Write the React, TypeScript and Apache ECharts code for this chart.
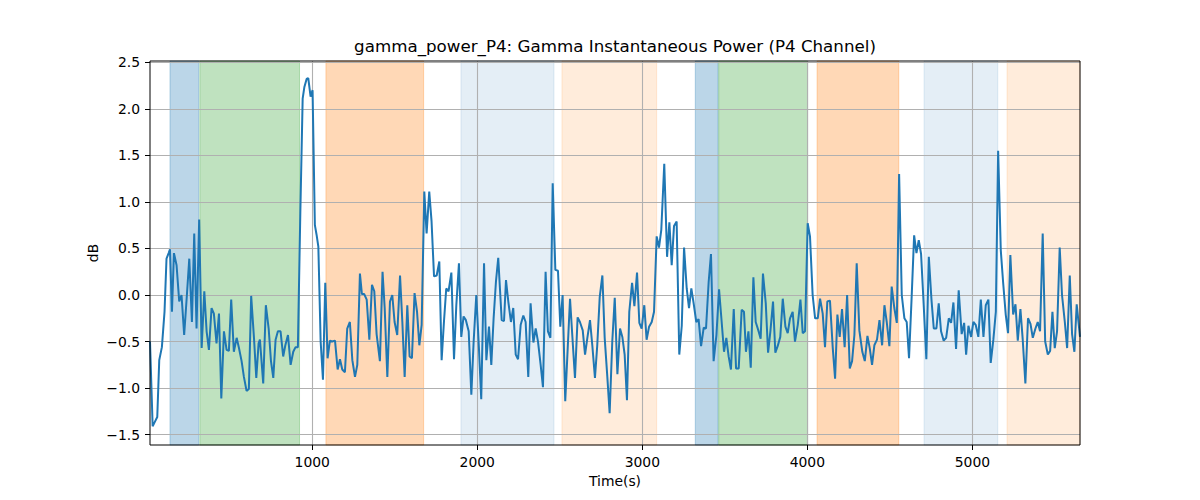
import React, { useEffect, useRef } from "react";
import * as echarts from "echarts";

const times = [
  17, 33, 47, 61, 73, 89, 105, 117, 130, 138, 150, 162, 178, 194, 208, 224, 239, 255, 271, 285,
  299, 315, 330, 346, 360, 374, 390, 404, 420, 435, 449, 465, 481, 495, 509, 525, 542, 556, 572, 586,
  602, 616, 630, 647, 661, 675,
  683, 703, 719, 736, 750, 764, 778, 792, 808, 824, 837, 853, 869, 885, 899, 913, 928, 942, 952, 966,
  976, 990, 1002, 1016, 1026, 1037, 1051, 1065, 1079, 1093, 1107, 1121, 1138, 1154, 1168, 1182, 1198, 1212, 1228, 1243,
  1259, 1273, 1289, 1301, 1315, 1330, 1346, 1362, 1376, 1390,
  1410, 1426, 1439, 1455, 1471, 1485, 1499, 1515, 1532, 1546, 1560, 1576, 1590, 1604, 1620, 1635, 1649, 1663, 1679, 1693,
  1709, 1723, 1738, 1754, 1770, 1784, 1798, 1812, 1826, 1843, 1859, 1873, 1889, 1903, 1917, 1931, 1948, 1964, 1978, 1994,
  2010, 2024, 2041, 2055, 2071, 2085, 2099, 2113, 2127,
  2148, 2162, 2174, 2188, 2204, 2218, 2233, 2247, 2263, 2279, 2293, 2309, 2323, 2340, 2354, 2368, 2384, 2398, 2414, 2428,
  2443, 2457, 2473, 2489, 2503, 2517, 2533, 2548, 2562, 2578, 2592, 2608, 2622, 2639, 2653, 2667, 2683, 2697, 2713, 2727,
  2742, 2758, 2772, 2788, 2802, 2818, 2833, 2849,
  2865, 2879, 2893, 2907, 2921, 2938, 2952, 2968, 2982, 2996, 3012, 3026, 3041, 3057, 3071, 3087, 3101, 3115, 3133, 3150,
  3164, 3178, 3192, 3208, 3224, 3239, 3253, 3269, 3283, 3297, 3311, 3327, 3341, 3356, 3372, 3386, 3402, 3416, 3432, 3449,
  3465, 3479, 3495, 3509, 3523, 3537, 3554, 3568, 3584,
  3602, 3616, 3628, 3643, 3657, 3673, 3687, 3703, 3717, 3731, 3748, 3762, 3776, 3792, 3806, 3820, 3836, 3851, 3867, 3881,
  3895, 3911, 3925, 3942, 3958, 3972, 3986, 4002, 4016, 4032, 4047, 4063, 4077, 4093, 4107, 4121, 4137, 4154, 4168, 4182,
  4196, 4210, 4226, 4241, 4257, 4271, 4285, 4299, 4315,
  4333, 4348, 4364, 4378, 4392, 4406, 4422, 4437, 4453, 4467, 4481, 4497, 4511, 4527, 4542, 4556, 4572, 4588, 4602, 4616,
  4632, 4647, 4661, 4675, 4689, 4705, 4721, 4736, 4752, 4766, 4782, 4796, 4810, 4826, 4841, 4857, 4871, 4885, 4901, 4917,
  4935, 4950, 4962, 4976, 4992, 5006, 5020, 5036, 5051, 5067, 5081, 5097, 5111, 5127, 5142, 5156, 5172, 5186, 5202, 5216,
  5230, 5247, 5261, 5275, 5291, 5305, 5321, 5337, 5352, 5366, 5382, 5396, 5410, 5426, 5441, 5457, 5471, 5485, 5499, 5513,
  5529, 5543, 5560, 5574, 5590, 5604, 5618, 5632, 5652,
];

const values = [
  -0.5, -1.41, -1.36, -1.31, -0.7, -0.56, -0.18, 0.39, 0.45, 0.49, -0.18, 0.45, 0.32, -0.07, 0.0, -0.43, -0.04, 0.39, -0.29, 0.66,
  -0.36, 0.81, -0.57, 0.04, -0.39, -0.59, -0.14, -0.2, -0.52, -0.2, -1.11, -0.39, -0.59, -0.6, -0.05, -0.61, -0.46, -0.57, -0.71, -0.88,
  -1.03, -1.01, -0.01, -0.46, -0.89, -0.52,
  -0.48, -0.95, -0.11, -0.36, -0.71, -0.89, -0.48, -0.39, -0.39, -0.66, -0.54, -0.43, -0.75, -0.61, -0.56, -0.56, 0.9, 2.11, 2.23, 2.32,
  2.33, 2.13, 2.2, 0.75, 0.65, 0.52, -0.5, -0.91, 0.13, -0.68, -0.49, -0.5, -0.49, -0.8, -0.69, -0.8, -0.83, -0.36, -0.29, -0.7,
  -0.88, -0.75, 0.23, 0.01, 0.01, -0.05, -0.48, 0.11, 0.04, -0.42,
  -0.71, 0.25, -0.14, -0.88, -0.07, 0.0, -0.29, -0.43, 0.21, -0.29, -0.88, -0.11, -0.66, -0.68, 0.02, -0.18, -0.54, -0.32, 1.11, 0.66,
  1.11, 0.79, 0.2, 0.21, 0.36, -0.7, -0.29, 0.07, 0.04, 0.24, -0.69, -0.11, 0.34, -0.45, -0.23, -0.27, -0.39, -1.07, -0.5, 0.0,
  -0.57, -1.12, 0.34, -0.7, -0.34, -0.75, -0.25, 0.14, 0.4,
  -0.27, -0.28, 0.16, -0.07, -0.29, -0.14, -0.64, -0.69, -0.32, -0.22, -0.29, -0.88, -0.09, -0.51, -0.36, -0.5, -0.75, -0.99, 0.25, -0.39,
  -0.46, 1.2, 0.27, 0.26, -0.34, 0.0, -1.14, -0.57, -0.04, -0.5, -0.89, -0.24, -0.29, -0.38, -0.64, -0.46, -0.27, -0.54, -0.89, -0.54,
  -0.02, 0.21, -0.46, -0.88, -1.27, -0.5, -0.03, -0.85,
  -0.36, -0.45, -0.64, -1.13, -0.18, 0.13, -0.12, 0.24, -0.3, -0.36, -0.11, -0.48, -0.34, -0.29, -0.18, 0.63, 0.51, 0.7, 1.41, 0.41,
  0.78, 0.32, 0.74, 0.79, -0.64, -0.33, 0.51, 0.07, -0.14, 0.07, -0.09, -0.29, -0.26, -0.55, -0.35, -0.36, 0.14, 0.44, -0.71, -0.43,
  0.06, -0.25, -0.61, -0.46, -0.66, -0.8, -0.15, -0.79, -0.79,
  -0.16, -0.18, -0.61, -0.39, -0.78, 0.19, -0.29, -0.38, -0.47, 0.23, -0.09, -0.62, -0.39, -0.07, -0.62, -0.55, -0.45, -0.04, -0.34, -0.41,
  -0.25, -0.18, -0.5, -0.32, -0.05, -0.41, -0.39, 0.77, 0.63, 0.0, -0.25, -0.25, -0.04, -0.2, -0.56, -0.07, -0.06, -0.57, -0.9, -0.21,
  -0.45, -0.15, -0.56, 0.0, -0.79, -0.71, -0.43, 0.34, -0.38,
  -0.61, -0.71, -0.44, -0.57, -0.75, -0.54, -0.48, -0.27, -0.54, -0.11, -0.29, -0.55, 0.09, -0.14, -0.3, 1.3, 0.0, -0.25, -0.29, -0.68,
  -0.02, 0.64, 0.45, 0.59, 0.44, -0.11, -0.69, 0.41, -0.05, -0.36, -0.36, -0.09, -0.39, -0.49, -0.46, -0.25, -0.3, -0.08, -0.58, 0.05,
  -0.42, -0.3, -0.64, -0.33, -0.45, -0.29, -0.32, -0.45, -0.05, -0.45, -0.11, -0.05, -0.73, -0.48, -0.18, 1.55, 0.48, 0.14, -0.21, -0.41,
  0.43, -0.21, -0.1, -0.49, -0.15, -0.48, -0.95, -0.25, -0.31, -0.46, -0.36, -0.29, -0.39, 0.66, -0.5, -0.64, -0.6, -0.18, -0.57, -0.39,
  0.51, 0.0, -0.29, -0.57, 0.21, -0.42, -0.61, -0.1, -0.45,
];

const phaseStarts = [138, 319, 1083, 1901, 2513, 3321, 3463, 4059, 4707, 5210];
const phaseEnds = [312, 923, 1675, 2465, 3087, 3459, 4002, 4554, 5154, 5700];
const phaseColors = [
  "rgba(31,119,180,0.3)",
  "rgba(44,160,44,0.3)",
  "rgba(255,127,14,0.3)",
  "rgba(31,119,180,0.12)",
  "rgba(255,127,14,0.15)",
  "rgba(31,119,180,0.3)",
  "rgba(44,160,44,0.3)",
  "rgba(255,127,14,0.3)",
  "rgba(31,119,180,0.12)",
  "rgba(255,127,14,0.15)",
];

const xTicks = [1000, 2000, 3000, 4000, 5000];
const yTicks = [-1.5, -1.0, -0.5, 0.0, 0.5, 1.0, 1.5, 2.0, 2.5];

const X_MIN = 17;
const X_MAX = 5652;
const Y_MIN = -1.611;
const Y_MAX = 2.513;

const FONT = "DejaVu Sans";

export default function App() {
  const ref = useRef<HTMLDivElement>(null);

  useEffect(() => {
    if (!ref.current) return;
    const chart = echarts.init(ref.current, undefined, { renderer: "svg" });
    const lineData = times.map((t, i) => [t, values[i]]);
    const areas = phaseStarts.map((s, i) => [
      {
        xAxis: s,
        itemStyle: { color: phaseColors[i], borderColor: phaseColors[i], borderWidth: 1 },
      },
      { xAxis: Math.min(phaseEnds[i], X_MAX) },
    ]);

    chart.setOption({
      animation: false,
      grid: {
        left: 150,
        right: 120,
        top: 61,
        bottom: 55,
        show: true,
        borderColor: "#000",
        borderWidth: 1,
        backgroundColor: "transparent",
        z: 4,
      },
      xAxis: {
        type: "value",
        position: "bottom",
        min: X_MIN,
        max: X_MAX,
        splitNumber: 5,
        z: 2,
        axisLine: { show: false, onZero: false },
        axisTick: {
          show: true,
          length: 5,
          lineStyle: { color: "#000", width: 1 },
          customValues: xTicks,
        },
        axisLabel: {
          customValues: xTicks,
          color: "#000",
          fontSize: 13.9,
          fontFamily: FONT,
          margin: 10,
          formatter: (v: number) => String(Math.round(v)),
        },
        splitLine: { show: true, lineStyle: { color: "#b0b0b0", width: 1.1 } },
      },
      yAxis: {
        type: "value",
        position: "left",
        min: Y_MIN,
        max: Y_MAX,
        splitNumber: 8,
        z: 2,
        axisLine: { show: false, onZero: false },
        axisTick: {
          show: true,
          length: 5,
          lineStyle: { color: "#000", width: 1 },
          customValues: yTicks,
        },
        axisLabel: {
          customValues: yTicks,
          color: "#000",
          fontSize: 13.9,
          fontFamily: FONT,
          margin: 10,
          formatter: (v: number) => v.toFixed(1).replace("-", "\u2212"),
        },
        splitLine: { show: true, lineStyle: { color: "#b0b0b0", width: 1.1 } },
      },
      series: [
        {
          type: "line",
          data: [],
          z: 1,
          silent: true,
          markArea: { silent: true, data: areas },
        },
        {
          type: "line",
          data: lineData,
          z: 3,
          showSymbol: false,
          symbol: "none",
          lineStyle: { color: "#1f77b4", width: 2 },
          itemStyle: { color: "#1f77b4" },
        },
      ],
      graphic: [
        {
          type: "text",
          x: 615,
          y: 46,
          style: {
            text: "gamma_power_P4: Gamma Instantaneous Power (P4 Channel)",
            fontSize: 16.7,
            fontFamily: FONT,
            fill: "#000",
            textAlign: "center",
            textVerticalAlign: "middle",
          },
        },
        {
          type: "text",
          x: 615,
          y: 481,
          style: {
            text: "Time(s)",
            fontSize: 13.9,
            fontFamily: FONT,
            fill: "#000",
            textAlign: "center",
            textVerticalAlign: "middle",
          },
        },
        {
          type: "text",
          x: 93,
          y: 253,
          rotation: Math.PI / 2,
          style: {
            text: "dB",
            fontSize: 13.9,
            fontFamily: FONT,
            fill: "#000",
            textAlign: "center",
            textVerticalAlign: "middle",
          },
        },
      ],
    });
    return () => chart.dispose();
  }, []);

  return (
    <div
      ref={ref}
      style={{ position: "absolute", left: 0, top: 0, width: 1200, height: 500 }}
    />
  );
}
